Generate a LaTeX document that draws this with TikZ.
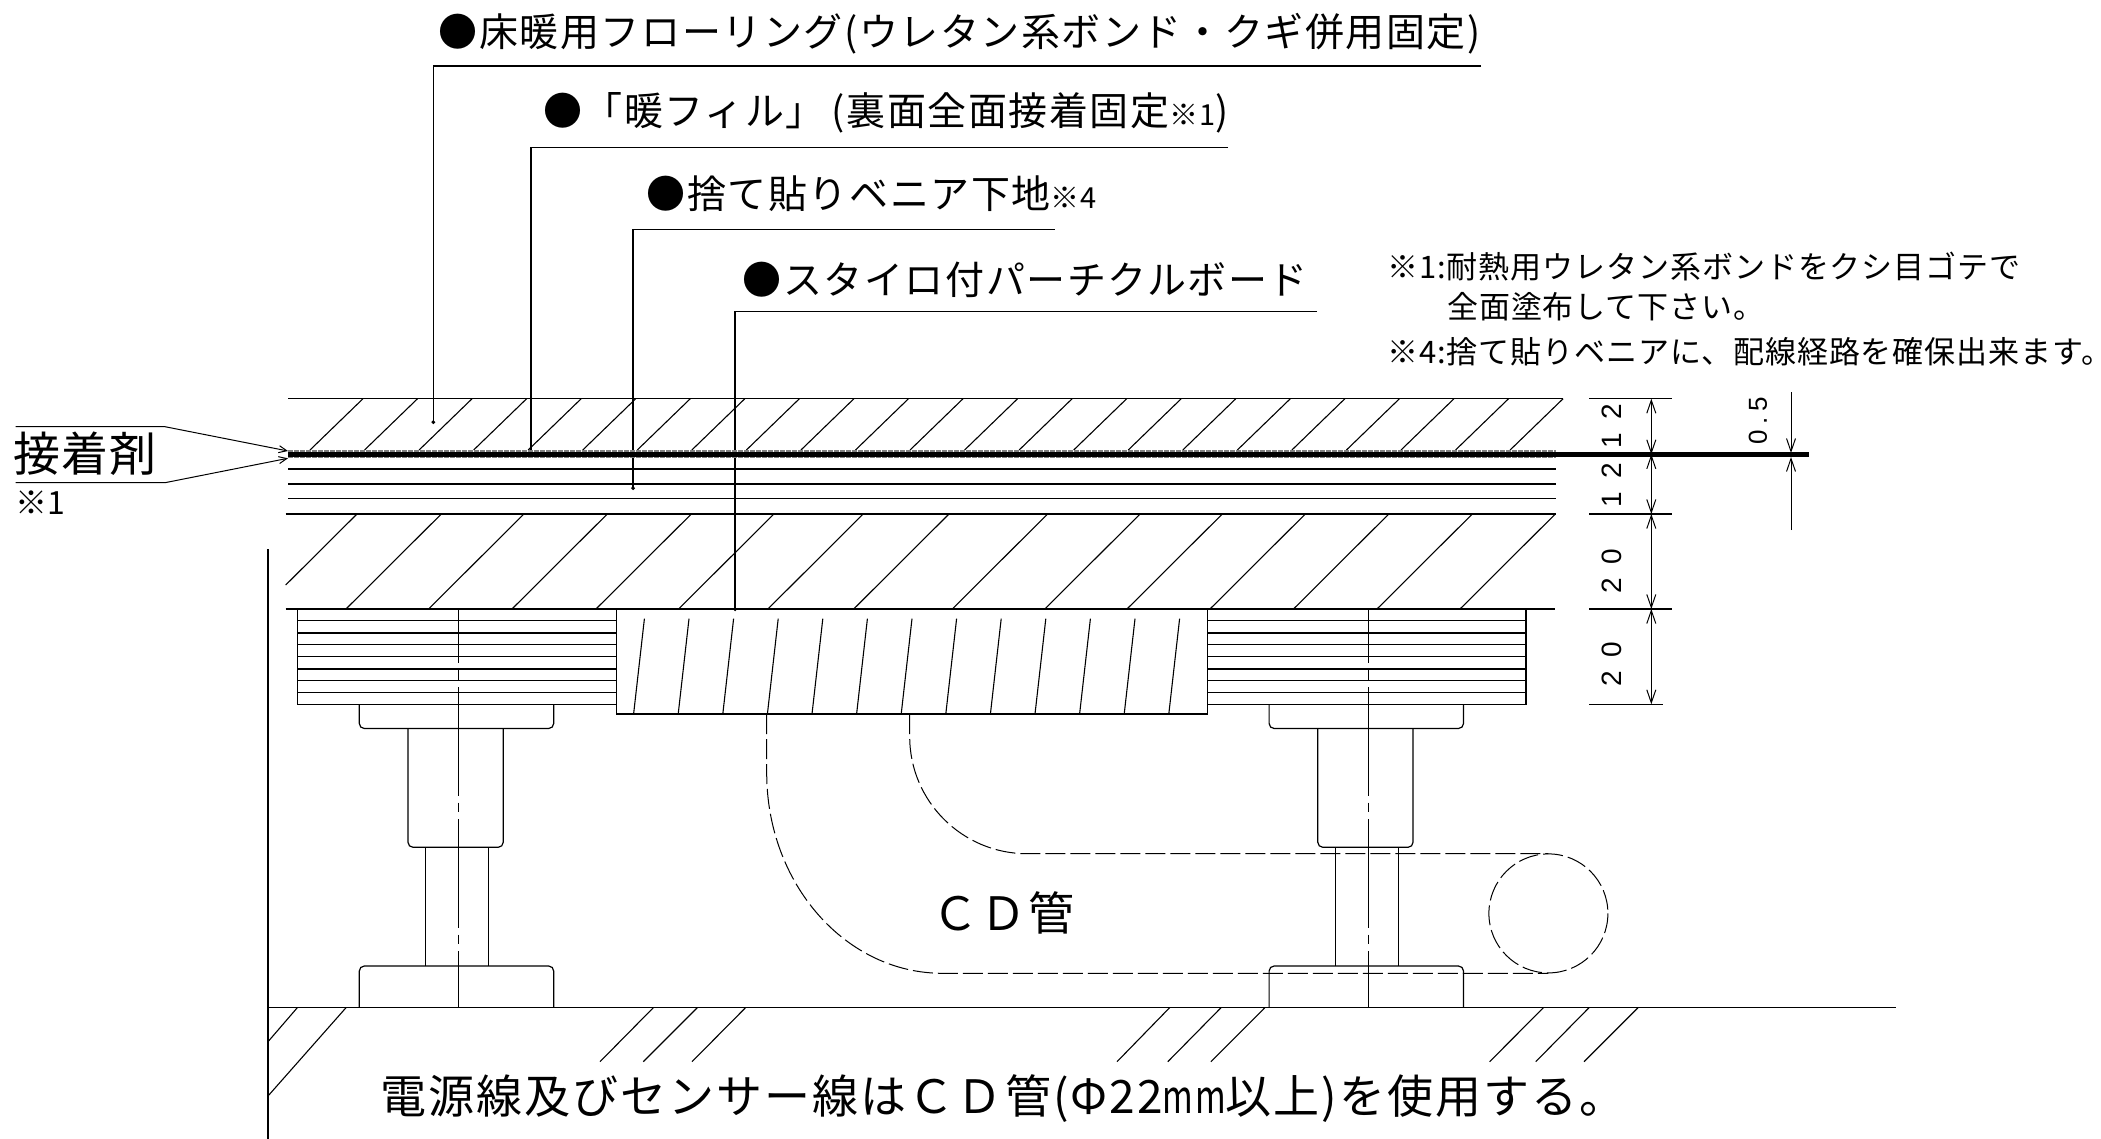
\documentclass[tikz,border=0pt]{standalone}
\usepackage{fontspec}
\usepackage{graphicx}
\usetikzlibrary{arrows.meta}
\newfontfamily\jpfont[LetterSpace=4]{Noto Sans CJK JP}
\newfontfamily\jpwide[LetterSpace=4.5]{Noto Sans CJK JP}
\newfontfamily\jptight[LetterSpace=2]{Noto Sans CJK JP}
\newfontfamily\jpnote[LetterSpace=3]{Noto Sans CJK JP}
\newfontfamily\dimfont[LetterSpace=50]{Liberation Sans}
\newfontfamily\smallfont[LetterSpace=22]{Liberation Sans}
\begin{document}
\begin{tikzpicture}[
        x=1pt, y=-1pt,
        line/.style={line width=1.2pt},
        thickline/.style={line width=1.8pt},
        hatch/.style={line width=1.1pt},
        leader/.style={line width=1.2pt,-{Circle[length=3.6pt]}},
        leaderplain/.style={line width=1.2pt},
        pipe/.style={line width=1pt,dash pattern=on 20pt off 5pt},
        dimline/.style={line width=1pt,{Straight Barb[length=13pt,width=9pt]}-{Straight Barb[length=13pt,width=9pt]}},
        centerline/.style={line width=1.1pt,dash pattern=on 108.5pt off 7pt on 9.7pt off 7pt,dash phase=54.2pt},
        label/.style={anchor=base west,inner sep=0pt,font=\jpfont\fontsize{39}{39}\selectfont},
        big/.style={anchor=base west,inner sep=0pt,font=\jpwide\fontsize{46}{46}\selectfont},
        note/.style={anchor=base west,inner sep=0pt,font=\jpnote\fontsize{31}{31}\selectfont},
        dimtext/.style={rotate=90,inner sep=0pt,font=\dimfont\fontsize{28}{28}\selectfont}
    ]
        \useasboundingbox (0,0) rectangle (2101,1139);

        % Labels
        \node[label] (flooring) at (438.5,46.5) {●床暖用フローリング(ウレタン系ボンド・クギ併用固定)};
        \node[label] (danfill) at (543,126) {●「暖フィル」\hspace{7pt}(裏面全面接着固定{\fontsize{29}{29}\selectfont ※1})};
        \node[label] (veneer) at (646.5,209) {●捨て貼りベニア下地{\fontsize{29}{29}\selectfont ※4}};
        \node[label] (board) at (742.5,294.5) {●スタイロ付パーチクルボード};

        \node[note] (note1a) at (1387,279) {※1:耐熱用ウレタン系ボンドをクシ目ゴテで};
        \node[note] (note1b) at (1447,319) {全面塗布して下さい。};
        \node[note] (note4) at (1387,363) {※4:捨て貼りベニアに、配線経路を確保出来ます。};

        \node[anchor=base west,inner sep=0pt,font=\jptight\fontsize{47}{47}\selectfont] (adhesive) at (13,471) {接着剤};
        \node[anchor=base west,inner sep=0pt,font=\jptight\fontsize{32}{32}\selectfont] (adhnote) at (15,514) {※1};
        \node[big] (cdpipe) at (932,930) {ＣＤ管};
        \node[big] (wiring) at (380,1113) {電源線及びセンサー線はＣＤ管(Φ22{\scalebox{.72}[1]{mm}}以上)を使用する。};

        \node[dimtext] (dima) at (1612,426) {12};
        \node[dimtext] (dimb) at (1612,485) {12};
        \node[dimtext] (dimc) at (1612,571) {20};
        \node[dimtext] (dimd) at (1612,664) {20};
        \node[rotate=90,inner sep=0pt,font=\smallfont\fontsize{26}{26}\selectfont] (dime) at (1758,420.5) {0.5};

        % Leaders
        \coordinate (leadA) at (1481,66);
        \coordinate (leadAend) at (433.3,424);
        \coordinate (leadB) at (1228,147.7);
        \coordinate (leadBend) at (531,451);
        \coordinate (leadC) at (1054.6,229.3);
        \coordinate (leadCend) at (633,490);
        \coordinate (leadD) at (1317,311.3);
        \coordinate (leadDend) at (735,611);
        \draw[leader] (leadA) -| (leadAend);
        \draw[leaderplain] (leadB) -| (leadBend);
        \draw[leader] (leadC) -| (leadCend);
        \draw[leader] (leadD) -| (leadDend);

        % Adhesive pointer
        \coordinate (tipA) at (288,451);
        \coordinate (tipB) at (288,458.3);
        \draw[line width=1pt,-{Straight Barb[length=8pt,width=7pt]}] (15.6,426.7) -- (165,426.7) -- (tipA);
        \draw[line width=1pt,-{Straight Barb[length=8pt,width=7pt]}] (15.6,482.7) -- (165,482.7) -- (tipB);

        % Floor layers
        \draw[line] (288,398.7) -- (1563,398.7);
        \foreach \i in {0,...,22}
            \draw[hatch] ({363+54.55*\i},398.7) -- ({310+54.55*\i},450);
        \draw[line width=8pt,black!50,dash pattern=on 5pt off 1pt] (288,454.3) -- (1556,454.3);
        \draw[line width=5pt] (288,454.3) -- (1808.5,454.3);
        \foreach \y in {469,484,498.7}
            \draw[line] (288,\y) -- (1556,\y);
        \draw[thickline] (285.7,514) -- (1357,514);
        \draw[line] (1357,514) -- (1556,514);
        \draw[hatch] (357,514) -- (285.7,585);
        \foreach \x in {346,428.6,512,596,678.6,767.9,853.7,952.3,1044.8,1127,1210,1293.5,1377,1460}
            \draw[hatch] (\x,609) -- ({\x+95.3},514);
        \draw[thickline] (285.7,609) -- (1555,609);

        % Joists
        \foreach \y in {620.7,633,644.7,656.7,669,680.7,692.3}
            \draw[line] (297.3,\y) -- (616,\y) (1207.3,\y) -- (1526,\y);
        \draw[line] (616,704.3) -- (297.3,704.3) -- (297.3,609);
        \draw[line] (1207.3,704.3) -- (1526,704.3) -- (1526,609);
        \draw[line] (616.2,609) rectangle (1207.3,714);
        \foreach \i in {0,...,12}
            \draw[hatch] ({644.4+44.6*\i},618.7) -- ({633.6+44.6*\i},714);

        % Pedestals
        \foreach \cx in {456.5,1366.3} {
            \draw[line,rounded corners=5pt] ({\cx-97.2},704.3) -- ({\cx-97.2},728.5) -- ({\cx+97.2},728.5) -- ({\cx+97.2},704.3);
            \draw[line,rounded corners=5pt] ({\cx-48.5},728.5) -- ({\cx-48.5},847.3) -- ({\cx+46.7},847.3) -- ({\cx+46.7},728.5);
            \draw[line] ({\cx-30.8},847.3) -- ({\cx-30.8},966) ({\cx+31.8},847.3) -- ({\cx+31.8},966);
            \draw[line,rounded corners=5pt] ({\cx-97.2},1007.7) -- ({\cx-97.2},966) -- ({\cx+97.2},966) -- ({\cx+97.2},1007.7);
            \draw[centerline] ({\cx+1.9},609) -- ({\cx+1.9},1007.7);
        }

        % CD pipe
        \draw[pipe] (909.7,714) -- (909.7,736.7) .. controls (909.7,801.3) and (962.4,853.7) .. (1027,853.7) -- (1548.4,853.7);
        \draw[pipe] (766.7,714) -- (766.7,773) .. controls (766.7,883.5) and (845.4,973.3) .. (942.4,973.3) -- (1548.4,973.3);
        \draw[pipe] (1548.4,913.4) circle (59.5);

        % Ground
        \draw[line] (268,549.3) -- (268,1139);
        \draw[line] (268,1007.7) -- (1896,1007.7);
        \draw[hatch] (297.3,1007.7) -- (268,1041.7);
        \draw[hatch] (346,1007.7) -- (268,1096);
        \foreach \xa/\xb in {653.3/600,697.3/643.3,745.5/692,1169.6/1117,1221/1167.8,1264.8/1210.9,1543.4/1489.6,1589/1535.7,1638/1584}
            \draw[hatch] (\xa,1007.7) -- (\xb,1061.7);

        % Dimensions
        \foreach \y/\xe in {398.7/1671.5,514/1671.5,609/1671.5,704.3/1662.5}
            \draw[line width=1.2pt] (1589,\y) -- (\xe,\y);
        \draw[dimline] (1651.3,398.7) -- (1651.3,454.3);
        \draw[dimline] (1651.3,454.3) -- (1651.3,514);
        \draw[dimline] (1651.3,514) -- (1651.3,609);
        \draw[dimline] (1651.3,609) -- (1651.3,704.3);
        \draw[line width=1pt,-{Straight Barb[length=13pt,width=9pt]}] (1791,392) -- (1791,453);
        \draw[line width=1pt,-{Straight Barb[length=13pt,width=9pt]}] (1791,530) -- (1791,457);
\end{tikzpicture}
\end{document}
